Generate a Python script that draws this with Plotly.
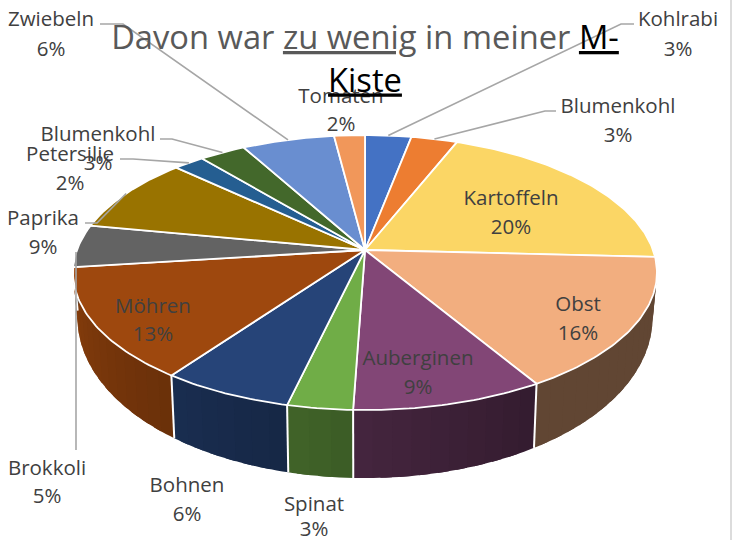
import numpy as np
import plotly.graph_objects as go

categories = ["Kohlrabi", "Blumenkohl", "Kartoffeln", "Obst", "Auberginen", "Spinat", "Bohnen",
              "Möhren", "Brokkoli", "Paprika", "Petersilie", "Blumenkohl", "Zwiebeln", "Tomaten"]
values = [3, 3, 19.8, 15.65, 9.1, 3.1, 6.25, 13.1, 5, 9, 2, 3, 6, 2]
colors = ["#4472C4", "#ED7D31", "#FBD665", "#F2AE7F", "#824676", "#70AD47", "#264478",
          "#9E480E", "#636363", "#997300", "#255E91", "#43682B", "#698ED0", "#F1975A"]

# label layout: x centre, y of name line, y of percent line
label_x = [678, 618, 511, 578, 418, 314, 187, 153, 47, 43, 70, 98, 51, 341]
name_y = [21, 108, 200, 306, 360, 506, 487, 308, 470, 220, 156, 136, 21, 98]
pct_y = [51, 137, 229, 335, 389, 531, 516, 336, 498, 249, 185, 165, 51, 126]

# leader lines: slice index -> points from the label towards the slice rim
leaders = {
    0: [(634, 24), (621, 24)],
    1: [(556, 111), (545, 111)],
    9: [(85, 223), (97, 223)],
    10: [(120, 159), (133, 159)],
    11: [(160, 139), (172, 139)],
    12: [(100, 24), (123, 24)],
}
brokkoli_leader = dict(x=[76, 76], y=[450, 252])

CX, CY, RX, A, K = 365, 250, 288, 133.8, 0.164


def top_xy(th):
    th = np.asarray(th, dtype=float)
    d = 1 + K * np.cos(th)
    return CX + RX * np.sin(th) / d, CY - A * np.cos(th) / d


def bottom_xy(th):
    x, y = top_xy(th)
    return CX + (x - CX) * 0.985, y + 40 - 28 * np.cos(th)


def shade(hex_color, f):
    r, g, b = (int(hex_color[i:i + 2], 16) for i in (1, 3, 5))
    return f"rgb({r * f:.0f},{g * f:.0f},{b * f:.0f})"


def side_factor(th):
    deg = np.degrees(th)
    return float(np.clip(0.4 + 0.45 * (deg - 150) / 110, 0.4, 0.85))


edges = np.cumsum([0] + values) / sum(values) * 2 * np.pi
fig = go.Figure()

# side walls: overlapping strips, no outlines, so no seams between them
for i, c in enumerate(colors):
    a0, a1 = edges[i], edges[i + 1]
    lo, hi = max(a0, np.radians(90)), min(a1, np.radians(272))
    if lo >= hi:
        continue
    n = max(2, int((hi - lo) / np.radians(3)))
    steps = np.linspace(lo, hi, n + 1)
    step = steps[1] - steps[0]
    for s0 in steps[:-1]:
        th = np.linspace(s0, min(s0 + 1.6 * step, hi), 6)
        xt, yt = top_xy(th)
        xb, yb = bottom_xy(th)
        col = shade(c, side_factor(s0 + step / 2))
        fig.add_trace(go.Scatter(
            x=np.r_[xt, xb[::-1], xt[0]], y=np.r_[yt, yb[::-1], yt[0]],
            mode="none", fill="toself", fillcolor=col, hoverinfo="skip", showlegend=False))

# side dividers
for e in edges:
    if np.radians(100) < e < np.radians(265):
        xt, yt = top_xy(e)
        xb, yb = bottom_xy(e)
        fig.add_trace(go.Scatter(x=[float(xt), float(xb)], y=[float(yt), float(yb)], mode="lines",
                                 line=dict(color="white", width=2), hoverinfo="skip", showlegend=False))

# top surface
for i, c in enumerate(colors):
    th = np.linspace(edges[i], edges[i + 1], max(8, int(values[i] * 4)))
    x, y = top_xy(th)
    fig.add_trace(go.Scatter(
        x=np.r_[CX, x, CX], y=np.r_[CY, y, CY], mode="lines", fill="toself", fillcolor=c,
        line=dict(color="white", width=1.8), name=categories[i], hoverinfo="skip", showlegend=False))

# leader lines
for i, pts in leaders.items():
    rx, ry = top_xy((edges[i] + edges[i + 1]) / 2)
    xs = [p[0] for p in pts] + [float(rx)]
    ys = [p[1] for p in pts] + [float(ry)]
    fig.add_trace(go.Scatter(x=xs, y=ys, mode="lines", line=dict(color="#A6A6A6", width=1.6),
                             hoverinfo="skip", showlegend=False))
fig.add_trace(go.Scatter(x=brokkoli_leader["x"], y=brokkoli_leader["y"], mode="lines",
                         line=dict(color="#A6A6A6", width=1.6), hoverinfo="skip", showlegend=False))

font = dict(family="Open Sans", size=20.5, color="#404040")
fig.add_trace(go.Scatter(x=label_x, y=name_y, mode="text", text=categories, textposition="middle center",
                         textfont=font, hoverinfo="skip", showlegend=False))
fig.add_trace(go.Scatter(x=label_x, y=pct_y, mode="text", text=[f"{round(v)}%" for v in values],
                         textposition="middle center", textfont=font, hoverinfo="skip", showlegend=False))

fig.update_layout(
    width=737, height=540, margin=dict(l=0, r=0, t=0, b=0),
    paper_bgcolor="white", plot_bgcolor="white",
    xaxis=dict(range=[0, 737], visible=False, fixedrange=True),
    yaxis=dict(range=[540, 0], visible=False, fixedrange=True),
    title=dict(
        text='Davon war <u>zu wenig</u> in meiner <span style="color:black"><u>M-</u></span><br>'
             '<span style="color:black"><u>Kiste</u></span>',
        x=365 / 737, xanchor="center", xref="paper", y=1 - 49 / 540, yanchor="top", yref="container",
        font=dict(family="Open Sans", size=32.7, color="#595959")),
    shapes=[dict(type="line", xref="x", yref="y", x0=731, x1=731, y0=0, y1=540,
                 line=dict(color="#DCDCDC", width=2))],
)
fig.write_html("out.html", config={"displayModeBar": False},
               post_script="document.body.style.margin='0';document.documentElement.style.overflow='hidden';")
